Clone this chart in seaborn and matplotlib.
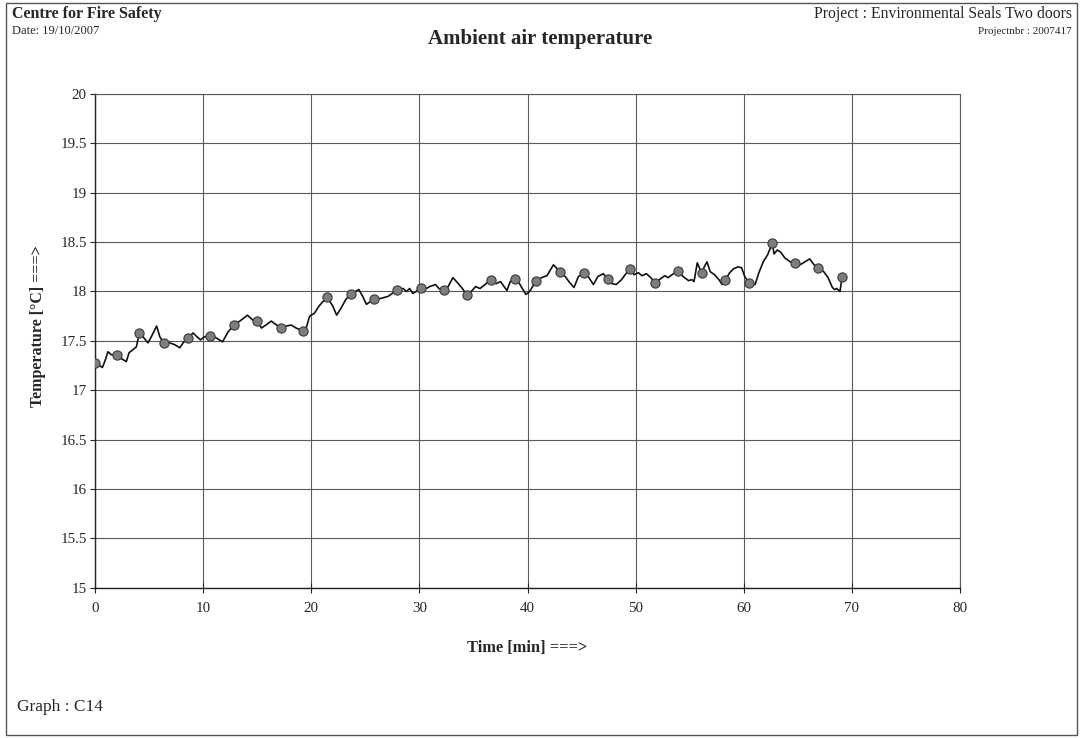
import numpy as np
import pandas as pd
import matplotlib
matplotlib.use('Agg')
import matplotlib.pyplot as plt
from matplotlib.patches import Rectangle
import seaborn as sns

# ── Data ──────────────────────────────────────────────────────────
line_time = [0.0, 0.28, 0.68, 0.9, 1.2, 1.5, 2.0, 2.44, 2.9, 3.15, 3.5, 3.83,
             4.1, 4.45, 4.9, 5.2, 5.7, 6.0, 6.35, 6.9, 7.4, 7.84, 8.15, 8.6,
             9.07, 9.44, 9.76, 10.1, 10.65, 11.2, 11.8, 12.3, 12.85, 13.4, 14.1,
             14.6, 15.0, 15.4, 15.8, 16.3, 16.8, 17.2, 17.7, 18.15, 18.6, 19.25,
             19.5, 19.85, 20.3, 20.7, 21.1, 21.5, 22.0, 22.35, 22.75, 23.2, 23.65,
             24.4, 24.76, 25.1, 25.5, 25.8, 26.45, 27.1, 27.5, 27.95, 28.5, 28.8,
             29.1, 29.4, 29.7, 30.15, 30.65, 30.96, 31.5, 31.8, 32.3, 32.66, 33.1,
             33.6, 34.05, 34.4, 34.8, 35.2, 35.6, 35.96, 36.6, 37.1, 37.5, 38.1,
             38.4, 38.8, 39.2, 39.85, 40.2, 40.8, 41.3, 41.8, 42.4, 43.0, 43.5,
             43.9, 44.3, 44.7, 45.2, 45.5, 46.1, 46.5, 47.0, 47.4, 47.8, 48.2,
             48.7, 49.1, 49.5, 49.85, 50.25, 50.6, 51.0, 51.4, 51.8, 52.2, 52.7,
             53.0, 53.5, 53.95, 54.4, 54.9, 55.2, 55.4, 55.7, 55.9, 56.1, 56.4,
             56.6, 56.9, 57.3, 57.7, 58.0, 58.3, 58.7, 59.05, 59.5, 59.8, 60.1,
             60.45, 61.05, 61.4, 61.8, 62.2, 62.65, 62.8, 63.1, 63.4, 63.8, 64.3,
             64.75, 65.2, 65.5, 66.1, 66.5, 66.9, 67.4, 67.8, 68.2, 68.4, 68.6,
             68.9, 69.1]
line_temp = [17.28, 17.26, 17.23, 17.29, 17.39, 17.36, 17.36, 17.32, 17.29, 17.38,
             17.41, 17.44, 17.58, 17.54, 17.48, 17.54, 17.65, 17.54, 17.48, 17.48,
             17.46, 17.43, 17.48, 17.53, 17.58, 17.54, 17.51, 17.54, 17.55, 17.53,
             17.49, 17.59, 17.66, 17.70, 17.76, 17.71, 17.70, 17.63, 17.66, 17.70,
             17.66, 17.63, 17.65, 17.66, 17.63, 17.60, 17.62, 17.75, 17.78, 17.85,
             17.90, 17.94, 17.85, 17.76, 17.83, 17.92, 17.97, 18.02, 17.95, 17.87,
             17.90, 17.92, 17.93, 17.95, 17.98, 18.02, 18.03, 18.00, 18.03, 17.98,
             18.00, 18.04, 18.03, 18.05, 18.07, 18.03, 18.02, 18.05, 18.14, 18.08,
             18.02, 17.96, 18.00, 18.05, 18.03, 18.06, 18.12, 18.08, 18.10, 18.01,
             18.10, 18.13, 18.09, 17.97, 18.00, 18.11, 18.14, 18.16, 18.27, 18.20,
             18.15, 18.09, 18.04, 18.15, 18.19, 18.17, 18.07, 18.15, 18.18, 18.13,
             18.08, 18.07, 18.12, 18.18, 18.23, 18.17, 18.19, 18.16, 18.18, 18.14,
             18.09, 18.12, 18.16, 18.14, 18.18, 18.21, 18.15, 18.11, 18.12, 18.10,
             18.29, 18.24, 18.19, 18.26, 18.30, 18.20, 18.17, 18.12, 18.07, 18.12,
             18.19, 18.23, 18.25, 18.24, 18.15, 18.09, 18.07, 18.19, 18.30, 18.37,
             18.49, 18.38, 18.42, 18.40, 18.34, 18.30, 18.29, 18.27, 18.29, 18.33,
             18.27, 18.24, 18.20, 18.14, 18.04, 18.02, 18.03, 18.00, 18.15]

marker_time = [0.0, 2.0, 4.1, 6.35, 8.6, 10.65, 12.85, 15.0, 17.2, 19.25, 21.5,
               23.65, 25.8, 27.95, 30.15, 32.3, 34.4, 36.6, 38.8, 40.8, 43.0,
               45.2, 47.4, 49.5, 51.8, 53.95, 56.1, 58.3, 60.45, 62.65, 64.75,
               66.9, 69.1]
marker_temp = [17.28, 17.36, 17.58, 17.48, 17.53, 17.55, 17.66, 17.70, 17.63,
               17.60, 17.94, 17.97, 17.92, 18.02, 18.04, 18.02, 17.96, 18.12,
               18.13, 18.11, 18.20, 18.19, 18.13, 18.23, 18.09, 18.21, 18.19,
               18.12, 18.09, 18.49, 18.29, 18.24, 18.15]

x_ticks = [0, 10, 20, 30, 40, 50, 60, 70, 80]
y_ticks = [15, 15.5, 16, 16.5, 17, 17.5, 18, 18.5, 19, 19.5, 20]
y_tick_labels = ['15', '15.5', '16', '16.5', '17', '17.5', '18', '18.5', '19', '19.5', '20']

line_df = pd.DataFrame({'time': line_time, 'temp': line_temp})
marker_df = pd.DataFrame({'time': marker_time, 'temp': marker_temp})

# ── Style ─────────────────────────────────────────────────────────
sns.set_style('white')
plt.rcParams['font.family'] = ['Liberation Serif', 'DejaVu Serif']
GRID = '#5a5a5a'

W, H = 1080, 738
fig = plt.figure(figsize=(W / 100, H / 100), dpi=100)
ax = fig.add_axes([95 / W, 1 - 587.7 / H, 865 / W, 493.7 / H])

sns.lineplot(data=line_df, x='time', y='temp', ax=ax, color='#111111',
             linewidth=1.2, sort=False, estimator=None)
sns.scatterplot(data=marker_df, x='time', y='temp', ax=ax, s=44,
                color='#7d7d7d', edgecolor='#3a3a3a', linewidth=0.8, zorder=4)

ax.set_xlim(0, 80)
ax.set_ylim(15, 20)
ax.set_xticks(x_ticks)
ax.set_xticklabels([str(v) for v in x_ticks])
ax.set_yticks(y_ticks)
ax.set_yticklabels(y_tick_labels)
ax.grid(True, color=GRID, linewidth=0.8)
ax.set_axisbelow(True)
for side in ['top', 'right']:
    ax.spines[side].set_color(GRID)
    ax.spines[side].set_linewidth(0.8)
for side in ['left', 'bottom']:
    ax.spines[side].set_color('#222222')
    ax.spines[side].set_linewidth(1.0)

ax.tick_params(axis='y', direction='out', length=3.5, width=0.8, color='#222222',
               labelsize=10.8, pad=2.5, left=True)
ax.tick_params(axis='x', direction='inout', length=7, width=0.8, color='#222222',
               labelsize=10.8, pad=7, bottom=True)

ax.set_xlabel('Time [min] ===>', fontsize=11.8, fontweight='bold')
ax.set_ylabel('Temperature [°C] ===>', fontsize=11.5, fontweight='bold')
ax.xaxis.set_label_coords(0.5, -0.106)
ax.yaxis.set_label_coords(-0.057, 0.53)

# ── Page header / footer ──────────────────────────────────────────
fig.text(12 / W, 1 - 14 / H, 'Centre for Fire Safety', fontsize=11.5,
         fontweight='bold', ha='left', va='center')
fig.text(12 / W, 1 - 31 / H, 'Date: 19/10/2007', fontsize=9,
         ha='left', va='center')
fig.text(540 / W, 1 - 39 / H, 'Ambient air temperature', fontsize=15,
         fontweight='bold', ha='center', va='center')
fig.text(1072 / W, 1 - 14 / H, 'Project : Environmental Seals Two doors',
         fontsize=11.3, ha='right', va='center')
fig.text(1072 / W, 1 - 31 / H, 'Projectnbr : 2007417', fontsize=8,
         ha='right', va='center')
fig.text(17 / W, 1 - 707 / H, 'Graph : C14', fontsize=12.5,
         ha='left', va='center')

# page frame
fig.patches.append(Rectangle((6 / W, 1 - 735 / H), 1071 / W, 732 / H,
                             transform=fig.transFigure, fill=False,
                             edgecolor='#555555', linewidth=1.0))

fig.savefig('out.png', dpi=100)
plt.close(fig)
